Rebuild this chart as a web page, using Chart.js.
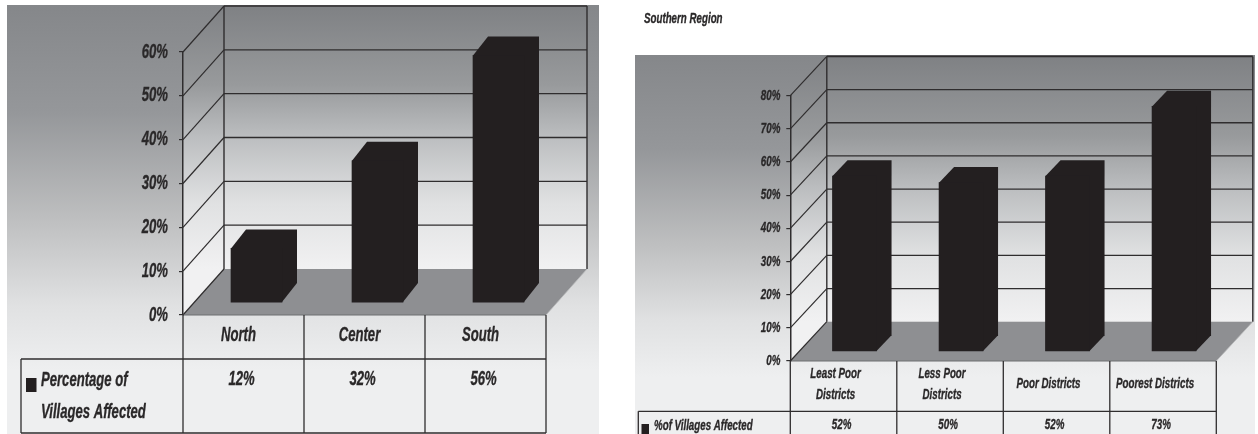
<!DOCTYPE html>
<html><head><meta charset="utf-8">
<script src="https://cdn.jsdelivr.net/npm/chart.js@4/dist/chart.umd.js"></script>
<style>
html,body{margin:0;padding:0;background:#fff;width:1258px;height:434px;overflow:hidden}
canvas{position:absolute;top:0}
#a{left:0}#b{left:620px}
</style></head><body>
<canvas id="a" width="620" height="434"></canvas>
<canvas id="b" width="638" height="434"></canvas>
<script>
const regionCategories = ['North','Center','South'];
const regionValues = [12,32,56];
const regionValueLabels = ['12%','32%','56%'];
const regionSeriesLines = ['Percentage of','Villages Affected'];
const regionMax = 60;

const districtCategories = [['Least Poor','Districts'],['Less Poor','Districts'],'Poor Districts','Poorest Districts'];
const districtValues = [52,50,52,73];
const districtValueLabels = ['52%','50%','52%','73%'];
const districtSeriesLines = ['%of Villages Affected'];
const districtMax = 80;
const tickStep = 10;
const rightTitle = 'Southern Region';

const FF = "'Liberation Sans',Arial,sans-serif";
const INK = '#2a2829', LINE = '#2f2d2e', BAR = '#231f20', FLOOR = '#8e8f92';
const WALL = [[0,'#7f8184'],[.3,'#989a9c'],[.5,'#bcbec0'],[.75,'#e0e1e2'],[1,'#f1f1f2']];
const PANEL = [[0,'#85878a'],[.25,'#95979a'],[.5,'#bebfc0'],[.7,'#e0e1e2'],[.85,'#eeeff0'],[1,'#eeeff0']];

function grad(ctx,y0,y1,stops){const g=ctx.createLinearGradient(0,y0,0,y1);stops.forEach(s=>g.addColorStop(s[0],s[1]));return g;}
function poly(ctx,pts,fill){ctx.beginPath();pts.forEach((p,i)=>i?ctx.lineTo(p[0],p[1]):ctx.moveTo(p[0],p[1]));ctx.closePath();if(fill){ctx.fillStyle=fill;ctx.fill();}}
function seg(ctx,x0,y0,x1,y1,w,c){ctx.beginPath();ctx.moveTo(x0,y0);ctx.lineTo(x1,y1);ctx.lineWidth=w;ctx.strokeStyle=c||LINE;ctx.stroke();}
// the reference uses a condensed heavy face; squeeze every string about its anchor and thicken it slightly
function condense(ctx,k){
  const orig=ctx.fillText, st=ctx.strokeText;
  ctx.fillText=function(s,x,y){
    this.save();this.translate(x,y);this.scale(k,1);
    orig.call(this,s,0,0);
    this.strokeStyle=this.fillStyle;this.lineWidth=0.35;this.setLineDash([]);st.call(this,s,0,0);
    this.restore();
  };
}

function build(id,cats,vals,valLabels,seriesLines,max,g){
  const threeD = {
    id:'threeD',
    beforeDraw(c){
      const ctx=c.ctx, a=c.chartArea, y=c.scales.y, t=g.table;
      const bx=g.backX, by=g.backY, R=a.right+bx, F=a.bottom, L=a.left;
      ctx.save();
      ctx.fillStyle=grad(ctx,g.panel[1],g.panel[3],PANEL);
      ctx.fillRect(g.panel[0],g.panel[1],g.panel[2]-g.panel[0],g.panel[3]-g.panel[1]);
      const wtop=a.top+by, wbot=F+by, wg=grad(ctx,wtop,wbot,WALL);
      ctx.fillStyle=wg; ctx.fillRect(L+bx,wtop,a.right-L,wbot-wtop);
      poly(ctx,[[L,F],[L+bx,wbot],[L+bx,wtop],[L,a.top]],wg);
      poly(ctx,[[L,F],[L+bx,wbot],[R,wbot],[a.right,F]],FLOOR);
      y.ticks.forEach(tk=>{
        const p=y.getPixelForValue(tk.value);
        if(tk.value>0) seg(ctx,L+bx,p+by,R,p+by,tk.value===max?1.6:1.3);
        seg(ctx,L,p,L+bx,p+by,1.2);
      });
      seg(ctx,L+bx,wtop,L+bx,wbot,1.4);
      seg(ctx,R,wtop,R,wbot,1.4);
      seg(ctx,a.right,F,R,wbot,.8,'#b9babb');
      seg(ctx,L,F,a.right,F,1,'#6d6e70');
      const rowY=t.rowY, botY=t.botY;
      seg(ctx,t.left,rowY,a.right,rowY,1.3);
      if(t.closed) seg(ctx,t.left,botY,a.right,botY,1.3);
      seg(ctx,t.left,rowY,t.left,botY,1.3);
      const step=(a.right-L)/cats.length;
      for(let i=0;i<=cats.length;i++){const x=L+step*i;seg(ctx,x,F,x,botY,1.3);}
      ctx.restore();
    },
    beforeDatasetsDraw(c){
      const ctx=c.ctx;
      ctx.save();
      ctx.translate(g.barDX,g.barDY);
      c.getDatasetMeta(0).data.forEach(el=>{
        const l=el.x-el.width/2,r=el.x+el.width/2,d=g.depthX,e=g.depthY;
        poly(ctx,[[l,el.y],[l+d,el.y+e],[r+d,el.y+e],[r+d,el.base+e],[r,el.base],[l,el.base]],BAR);
      });
    },
    afterDatasetsDraw(c){c.ctx.restore();},
    afterDraw(c){
      const ctx=c.ctx,x=c.scales.x,t=g.table;
      ctx.save();
      ctx.fillStyle=INK;ctx.textBaseline='middle';ctx.textAlign='center';
      ctx.font='italic bold '+g.valueFont+'px '+FF;
      valLabels.forEach((s,i)=>ctx.fillText(s,x.getPixelForValue(i)+g.valueDX,t.valueY));
      ctx.textAlign='left';
      ctx.font='italic bold '+g.seriesFont+'px '+FF;
      seriesLines.forEach((s,i)=>ctx.fillText(s,t.seriesX,t.seriesY+i*t.seriesGap));
      ctx.fillStyle=BAR;ctx.fillRect(t.sq[0],t.sq[1],t.sq[2],t.sq[3]);
      if(g.title){
        ctx.fillStyle=INK;ctx.font='italic bold '+g.title.size+'px '+FF;
        ctx.fillText(g.title.text,g.title.x,g.title.y);
      }
      ctx.restore();
    }
  };
  const canvas=document.getElementById(id);
  condense(canvas.getContext('2d'),g.narrow);
  return new Chart(canvas,{
    type:'bar',
    data:{labels:cats,datasets:[{label:seriesLines.join(' '),data:vals,backgroundColor:BAR,borderWidth:0,
      barThickness:g.barW,base:g.barBase,clip:false}]},
    options:{
      responsive:false,animation:false,devicePixelRatio:1,
      layout:{autoPadding:false,padding:{left:0,top:g.top,right:g.W-g.right,bottom:0}},
      plugins:{legend:{display:false},tooltip:{enabled:false},title:{display:false}},
      scales:{
        y:{min:0,max:max,
          afterFit(s){s.width=g.left;},
          ticks:{stepSize:tickStep,color:INK,padding:g.yPad,callback:v=>v+'%',font:{family:FF,size:g.yFont,style:'italic',weight:'bold'}},
          grid:{drawOnChartArea:false,drawTicks:true,tickLength:4,color:LINE,lineWidth:1.2},
          border:{display:true,color:LINE,width:1.5}},
        x:{
          afterFit(s){s.height=g.H-g.bottom;},
          grid:{display:false},border:{display:false},
          ticks:{color:INK,autoSkip:false,maxRotation:0,minRotation:0,padding:g.xPad,crossAlign:g.xCross,labelOffset:g.xOffset,
            font:{family:FF,size:g.xFont,style:'italic',weight:'bold',lineHeight:g.xLH}}}
      }
    },
    plugins:[threeD]
  });
}

build('a',regionCategories,regionValues,regionValueLabels,regionSeriesLines,regionMax,{
  W:620,H:434,left:183,right:546,top:52,bottom:315,narrow:0.655,
  panel:[7,5,599,434],backX:41,backY:-46,
  barW:51,barDX:13,barDY:-14,barBase:-0.25,depthX:15,depthY:-19,
  yFont:20,yPad:11,xFont:20,xPad:0,xOffset:-5,xLH:1.2,xCross:'near',
  valueFont:20,valueDX:-2,seriesFont:20,
  table:{left:21,rowY:359,botY:433,closed:true,valueY:379,seriesX:41,seriesY:380,seriesGap:32,sq:[26,378,10.5,14]}
});
build('b',districtCategories,districtValues,districtValueLabels,districtSeriesLines,districtMax,{
  W:638,H:434,left:170.3,right:596.3,top:95.7,bottom:361,narrow:0.65,
  panel:[15,55,635,434],backX:36.5,backY:-39.3,
  barW:44,barDX:11,barDY:-12.5,barBase:-0.75,depthX:15,depthY:-15.7,
  yFont:15,yPad:6,xFont:15,xPad:4.5,xOffset:-8,xLH:1.42,xCross:'center',
  valueFont:15,valueDX:-2,seriesFont:15,
  title:{text:rightTitle,x:24,y:18.5,size:15},
  table:{left:18.3,rowY:411.3,botY:434,closed:false,valueY:424.7,seriesX:34,seriesY:426,seriesGap:0,sq:[21.5,424,7.5,10]}
});
</script>
</body></html>
